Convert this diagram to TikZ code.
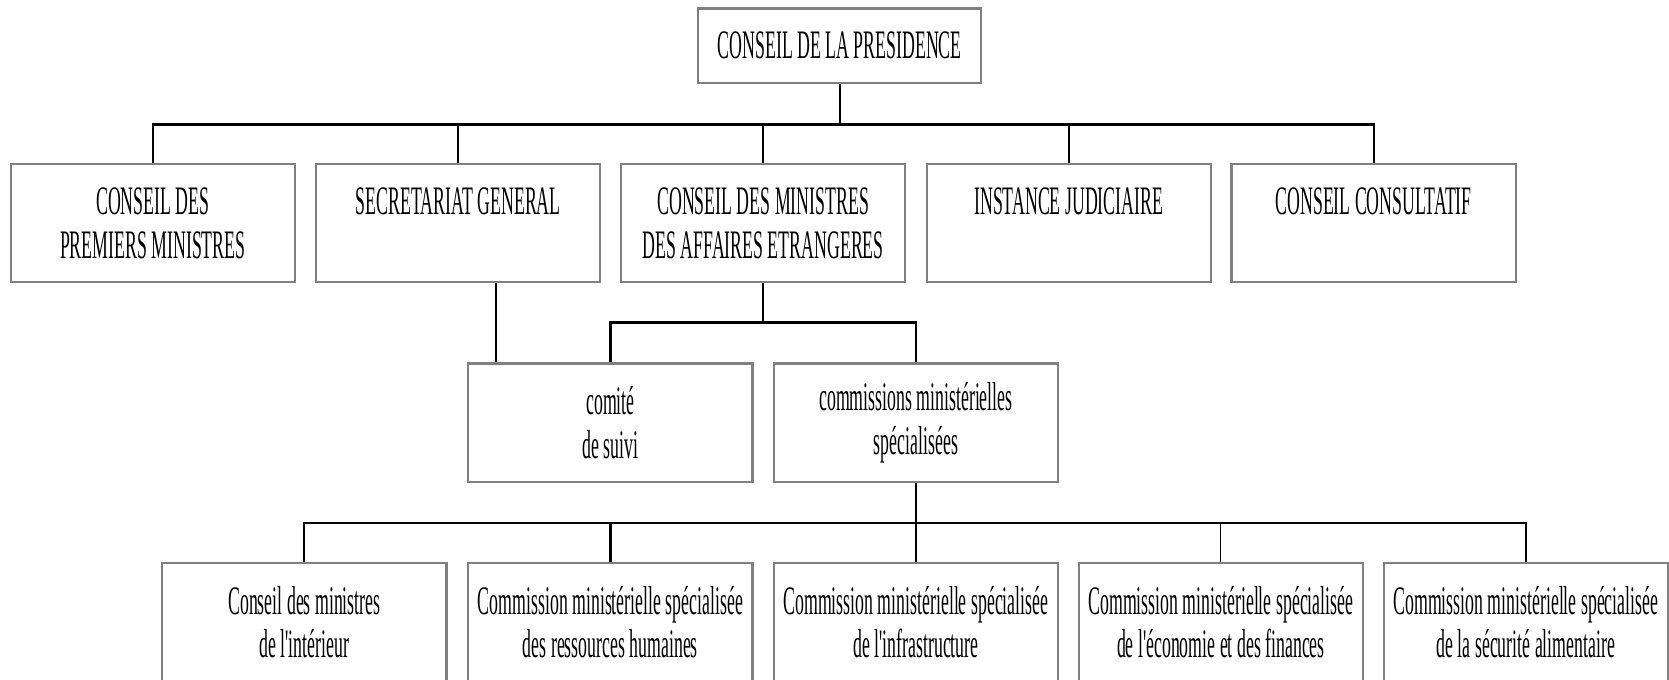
\documentclass[tikz,border=0pt]{standalone}
\usepackage{fontspec}
\newfontfamily\boxfont[FakeStretch=0.44]{Liberation Serif}
\begin{document}
\begin{tikzpicture}[x=0.5pt,y=-0.5pt,
  box/.style={draw=boxgray,line width=1pt,fill=white,rectangle,inner sep=0pt,
    minimum width=133.5pt,minimum height=55.5pt,align=center,
    font=\boxfont\fontsize{19}{20.5}\selectfont},
  conn/.style={draw=black,line width=1pt},
  thinconn/.style={draw=black,line width=0.55pt}]
\definecolor{boxgray}{HTML}{808080}
\useasboundingbox (0,0) rectangle (1568,638);
% top
\node[box,minimum width=133pt,minimum height=35pt] (top) at (789,43) {CONSEIL DE LA PRESIDENCE};
% row 2
\node[box] (cpm) at (143.5,209.5) {CONSEIL DES\\PREMIERS MINISTRES};
\node[box] (sg) at (430.5,209.5) {SECRETARIAT GENERAL\\\mbox{}};
\node[box] (cmae) at (717,209.5) {CONSEIL DES MINISTRES\\DES AFFAIRES ETRANGERES};
\node[box] (ij) at (1004,209.5) {INSTANCE JUDICIAIRE\\\mbox{}};
\node[box] (cc) at (1290.5,209.5) {CONSEIL CONSULTATIF\\\mbox{}};
% row 3
\node[box] (comite) at (573.5,397) {comité\\de suivi};
\node[box] (cms) at (860.5,397) {commissions ministérielles\\spécialisées};
% row 4
\node[box] (c1) at (286,584.5) {Conseil des ministres\\de l'intérieur};
\node[box] (c2) at (573.5,584.5) {Commission ministérielle spécialisée\\des ressources humaines};
\node[box] (c3) at (860.5,584.5) {Commission ministérielle spécialisée\\de l'infrastructure};
\node[box] (c4) at (1147,584.5) {Commission ministérielle spécialisée\\de l'économie et des finances};
\node[box] (c5) at (1433.5,584.5) {Commission ministérielle spécialisée\\de la sécurité alimentaire};
% bus coordinates
\coordinate (bus1) at (789,117);
\coordinate (sgx) at (466,265);
\coordinate (bus2) at (717,303);
\coordinate (bus3) at (860.5,491);
% connectors level 1
\draw[conn] (top.south) -- (bus1);
\draw[conn] (cpm.north) -- (cpm.north |- bus1) -- (cc.north |- bus1) -- (cc.north);
\draw[conn] (sg.north) -- (sg.north |- bus1);
\draw[conn] (cmae.north) -- (cmae.north |- bus1);
\draw[conn] (ij.north) -- (ij.north |- bus1);
% SG to comite
\draw[conn] (sg.south -| sgx) -- (comite.north -| sgx);
% CMAE to row 3
\draw[conn] (cmae.south) -- (bus2);
\draw[conn] (comite.north) -- (comite.north |- bus2) -- (cms.north |- bus2) -- (cms.north);
% commissions to row 4
\draw[thinconn] (cms.south) -- (c3.north);
\draw[conn] (c1.north) -- (c1.north |- bus3) -- (c5.north |- bus3) -- (c5.north);
\draw[conn] (c2.north) -- (c2.north |- bus3);
\draw[thinconn] (c4.north) -- (c4.north |- bus3);
\end{tikzpicture}
\end{document}
